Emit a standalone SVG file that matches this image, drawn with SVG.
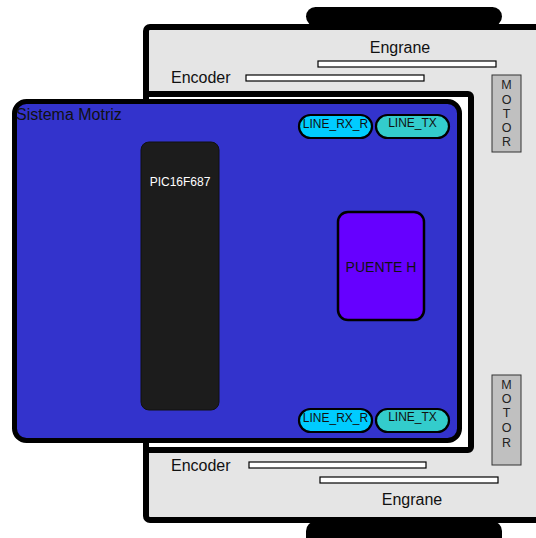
<svg xmlns="http://www.w3.org/2000/svg" width="536" height="538" viewBox="0 0 536 538">
<style>
text{font-family:"Liberation Sans",Arial,sans-serif}
.bar{fill:#fff;stroke:#000;stroke-width:1.2}
.lbl{font-size:16px;fill:#111}
.motor{fill:#c0c0c0;stroke:#333;stroke-width:1}
.mt{font-size:12.5px;fill:#222;text-anchor:middle}
.pill{stroke:#000;stroke-width:2.2}
.pt{font-size:12px;fill:#111;text-anchor:middle}
</style>
<rect width="536" height="538" fill="#fff"/>
<g id="chassis">
<rect x="306" y="7" width="196" height="19" rx="9.5" fill="#000"/>
<rect x="306" y="521" width="196" height="30" rx="10" fill="#000"/>
<rect x="146" y="27" width="400" height="493" rx="4" fill="#e5e5e5" stroke="#000" stroke-width="6"/>
<rect x="146" y="94" width="325" height="356" rx="3" fill="#fff" stroke="#000" stroke-width="6"/>
</g>
<g id="engrane-top">
<rect class="bar" x="318" y="61" width="178" height="6"/>
<text class="lbl" x="400" y="53" text-anchor="middle">Engrane</text>
</g>
<g id="encoder-top">
<rect class="bar" x="246" y="75" width="178" height="6"/>
<text class="lbl" x="171" y="83">Encoder</text>
</g>
<g id="encoder-bottom">
<rect class="bar" x="249" y="462" width="177" height="6"/>
<text class="lbl" x="171" y="471">Encoder</text>
</g>
<g id="engrane-bottom">
<rect class="bar" x="320" y="477" width="178" height="6"/>
<text class="lbl" x="412" y="505" text-anchor="middle">Engrane</text>
</g>
<g id="motor-top">
<rect class="motor" x="492" y="75" width="29" height="77"/>
<text class="mt"><tspan x="506.5" y="89">M</tspan><tspan x="506.5" y="103.5">O</tspan><tspan x="506.5" y="117.5">T</tspan><tspan x="506.5" y="131.5">O</tspan><tspan x="506.5" y="145.5">R</tspan></text>
</g>
<g id="motor-bottom">
<rect class="motor" x="492" y="375" width="29" height="90"/>
<text class="mt"><tspan x="506.5" y="388.5">M</tspan><tspan x="506.5" y="402.5">O</tspan><tspan x="506.5" y="416.5">T</tspan><tspan x="506.5" y="431.5">O</tspan><tspan x="506.5" y="446.5">R</tspan></text>
</g>
<g id="sistema-motriz">
<rect x="14.5" y="101.5" width="445" height="339" rx="12" fill="#3333cc" stroke="#000" stroke-width="5"/>
<text class="lbl" x="16" y="120">Sistema Motriz</text>
</g>
<g id="pic">
<rect x="141" y="142" width="78" height="268" rx="8" fill="#1c1c1c" stroke="#111" stroke-width="1"/>
<text x="180" y="186" font-size="12" fill="#fff" text-anchor="middle">PIC16F687</text>
</g>
<g id="puente-h">
<rect x="338" y="212" width="86" height="108" rx="10" fill="#6600ff" stroke="#000" stroke-width="2.5"/>
<text x="381" y="272" font-size="14" fill="#111" text-anchor="middle">PUENTE H</text>
</g>
<g id="line-rx-top">
<rect class="pill" x="299" y="115" width="73" height="23" rx="11.5" fill="#00ccff"/>
<text class="pt" x="335.5" y="128" font-size="12.3">LINE_RX_R</text>
</g>
<g id="line-tx-top">
<rect class="pill" x="376" y="115" width="73" height="23" rx="11.5" fill="#33cccc"/>
<text class="pt" x="412.5" y="127">LINE_TX</text>
</g>
<g id="line-rx-bottom">
<rect class="pill" x="299" y="409" width="73" height="23" rx="11.5" fill="#00ccff"/>
<text class="pt" x="335.5" y="422" font-size="12.3">LINE_RX_R</text>
</g>
<g id="line-tx-bottom">
<rect class="pill" x="376" y="409" width="73" height="23" rx="11.5" fill="#33cccc"/>
<text class="pt" x="412.5" y="421">LINE_TX</text>
</g>
<g id="connectors"/>
</svg>
